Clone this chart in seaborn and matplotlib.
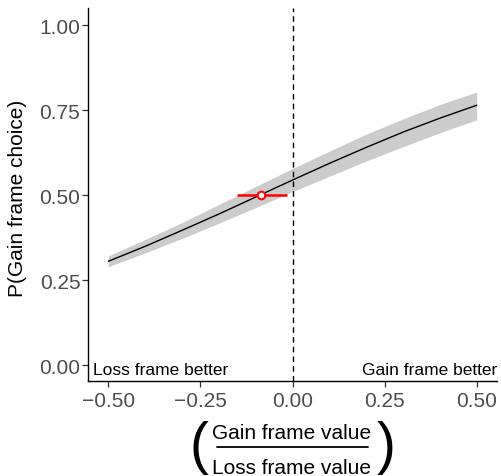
import matplotlib
matplotlib.use("Agg")
import matplotlib.pyplot as plt
from matplotlib.lines import Line2D
import seaborn as sns
import pandas as pd

# Fitted choice curve with its confidence band
x_vals = [-0.5, -0.4, -0.3, -0.2, -0.1, 0.0, 0.1, 0.2, 0.3, 0.4, 0.5]
p_fit = [0.305, 0.349, 0.396, 0.444, 0.494, 0.544, 0.593, 0.640, 0.685, 0.726, 0.764]
p_lower = [0.289, 0.330, 0.372, 0.417, 0.463, 0.510, 0.555, 0.600, 0.642, 0.683, 0.721]
p_upper = [0.321, 0.369, 0.419, 0.472, 0.525, 0.578, 0.629, 0.679, 0.724, 0.766, 0.803]

# Indifference point (P = 0.5) with its interval
indiff_x = [-0.086]
indiff_y = [0.5]
indiff_lo = [-0.151]
indiff_hi = [-0.014]

y_ticks = [0.00, 0.25, 0.50, 0.75, 1.00]
x_ticks = [-0.50, -0.25, 0.00, 0.25, 0.50]

y_title = "P(Gain frame choice)"
x_numerator = "Gain frame value"
x_denominator = "Loss frame value"
left_note = "Loss frame better"
right_note = "Gain frame better"

curve = pd.DataFrame({"x": x_vals, "p": p_fit, "lo": p_lower, "hi": p_upper})
point = pd.DataFrame({"x": indiff_x, "y": indiff_y})

sns.set_theme(style="ticks")
plt.rcParams["font.family"] = ["Liberation Sans", "DejaVu Sans"]

W, H = 501, 477
fig = plt.figure(figsize=(W / 100, H / 100), dpi=100)
ax = fig.add_axes([88 / W, 1 - 382 / H, (497 - 88) / W, (382 - 9) / H])


def fx(px):
    return px / W


def fy(py):
    return 1 - py / H


ax.fill_between(curve["x"], curve["lo"], curve["hi"], color="#cccccc", linewidth=0, zorder=1)
sns.lineplot(data=curve, x="x", y="p", color="black", linewidth=1.0, ax=ax, zorder=2)
ax.axvline(0, color="black", linestyle=(0, (4, 3)), linewidth=1.0, zorder=3)

ax.hlines(indiff_y, indiff_lo, indiff_hi, color="red", linewidth=1.8, zorder=4)
sns.scatterplot(data=point, x="x", y="y", s=30, facecolor="white", edgecolor="red",
                linewidth=1.5, ax=ax, zorder=5)

ax.set_xlim(-0.555, 0.555)
ax.set_ylim(-0.047, 1.05)
ax.set_xticks(x_ticks)
ax.set_yticks(y_ticks)
ax.set_xticklabels([f"{v:.2f}".replace("-", "\u2212") for v in x_ticks])
ax.set_yticklabels([f"{v:.2f}" for v in y_ticks])
ax.tick_params(axis="both", labelsize=15, labelcolor="#4d4d4d", color="#333333",
               length=4, width=0.9, direction="out")
ax.tick_params(axis="y", pad=1.5)
ax.tick_params(axis="x", pad=3)
for side in ["top", "right"]:
    ax.spines[side].set_visible(False)
for side in ["left", "bottom"]:
    ax.spines[side].set_color("black")
    ax.spines[side].set_linewidth(1.0)

ax.set_xlabel("")
ax.set_ylabel("")
fig.text(fx(18), fy(198), y_title, rotation=90, ha="center", va="center",
         fontsize=15, color="black")

# Bottom-corner notes on which frame is better
ax.text(-0.542, -0.026, left_note, ha="left", va="baseline", fontsize=12.5, color="black")
ax.text(0.555, -0.026, right_note, ha="right", va="baseline", fontsize=12.5, color="black")

# x-axis title: a ratio written as a fraction in large parentheses
fig.text(fx(292), fy(439), x_numerator, ha="center", va="baseline", fontsize=15, color="black")
fig.text(fx(292), fy(474), x_denominator, ha="center", va="baseline", fontsize=15, color="black")
fig.add_artist(Line2D([fx(217), fx(368)], [fy(448), fy(448)], color="black", linewidth=1.3))
fig.text(fx(199), fy(463), "(", ha="center", va="baseline", fontsize=41, color="black")
fig.text(fx(386), fy(463), ")", ha="center", va="baseline", fontsize=41, color="black")

fig.savefig("out.png", dpi=100)
